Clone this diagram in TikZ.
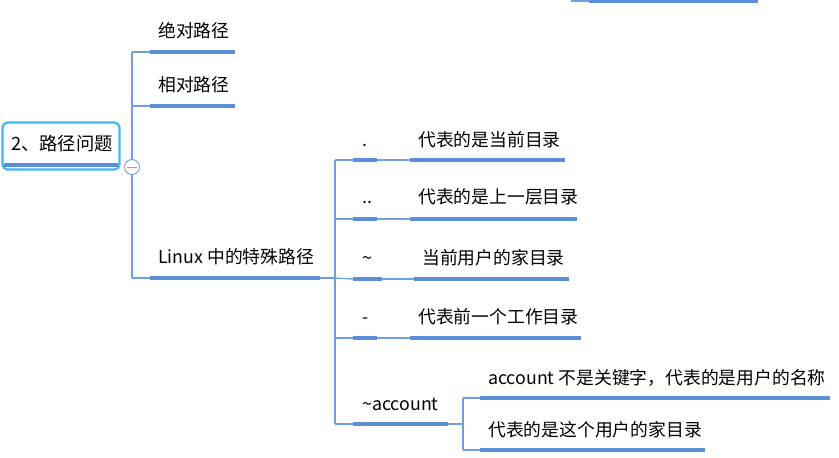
\documentclass[tikz,border=0pt]{standalone}
\usepackage{fontspec}
\setmainfont{Noto Sans CJK SC}
\definecolor{barc}{HTML}{5B8ED6}
\definecolor{thinc}{HTML}{6F9FDC}
\definecolor{rootc}{HTML}{3DB9EF}
\definecolor{togc}{HTML}{8AA4C8}
\begin{document}
\begin{tikzpicture}[x=1pt,y=-1pt,
  lbl/.style={anchor=base west, inner sep=0pt, font=\fontsize{17.8}{18}\selectfont},
  barline/.style={draw=barc, line width=3.5pt},
  conn/.style={draw=thinc, line width=1.3pt}]
\useasboundingbox (0,0) rectangle (839,458);

% top-right fragment
\coordinate (fa) at (572,-5);
\coordinate (fb) at (572,1);
\coordinate (fc) at (589,1);
\coordinate (fd) at (758,1);
\draw[conn] (fa) -- (fb) -- (fc);
\draw[barline] (fc) -- (fd);

% main vertical connector
\coordinate (mv1) at (132,52);
\coordinate (mv2) at (132,278);
\draw[conn] (mv1) -- (mv2);

% root
\node[draw=rootc, line width=2.2pt, rounded corners=5pt, minimum width=117pt, minimum height=47pt, inner sep=0pt, fill=white] (root) at (61,146) {};
\node[lbl, font=\fontsize{18.3}{19}\selectfont] (roottxt) at (11,150) {2、路径问题};
\coordinate (ru1) at (4,165);
\coordinate (ru2) at (118,165);
\draw[barline] (ru1) -- (ru2);
\node[circle, draw=togc, fill=white, line width=1pt, minimum size=15pt, inner sep=0pt] (tog) at (132,167) {};
\draw[togc, line width=1pt] ([xshift=-5pt]tog.center) -- ([xshift=5pt]tog.center);

% first-level children
\node[lbl] (abs) at (158,37.5) {绝对路径};
\coordinate (a1) at (150,52); \coordinate (a2) at (235,52);
\draw[conn] (mv1) -- (a1);
\draw[barline] (a1) -- (a2);

\node[lbl] (rel) at (158,91) {相对路径};
\coordinate (r0) at (132,106); \coordinate (r1) at (150,106); \coordinate (r2) at (235,106);
\draw[conn] (r0) -- (r1);
\draw[barline] (r1) -- (r2);

\node[lbl] (lin) at (158,263.5) {Linux 中的特殊路径};
\coordinate (l1) at (150,278); \coordinate (l2) at (320,278);
\draw[conn] (mv2) -- (l1);
\draw[barline] (l1) -- (l2);

% second vertical
\coordinate (sv1) at (335,160);
\coordinate (sv2) at (335,424);
\coordinate (svm) at (335,278);
\draw[conn] (l2) -- (svm);
\draw[conn] (sv1) -- (sv2);

% row 1 "."
\node[lbl] (k1) at (362,146) {.};
\node[lbl] (v1) at (418,146.5) {代表的是当前目录};
\coordinate (k1a) at (353,160); \coordinate (k1b) at (377,160);
\coordinate (v1a) at (410,160); \coordinate (v1b) at (565,160);
\draw[conn] (sv1) -- (k1a);
\draw[conn] (k1b) -- (v1a);
\draw[barline] (k1a) -- (k1b);
\draw[barline] (v1a) -- (v1b);

% row 2 ".."
\node[lbl] (k2) at (362,203.5) {..};
\node[lbl] (v2) at (418,203.5) {代表的是上一层目录};
\coordinate (k2s) at (335,219);
\coordinate (k2a) at (353,219); \coordinate (k2b) at (377,219);
\coordinate (v2a) at (410,219); \coordinate (v2b) at (577,219);
\draw[conn] (k2s) -- (k2a);
\draw[conn] (k2b) -- (v2a);
\draw[barline] (k2a) -- (k2b);
\draw[barline] (v2a) -- (v2b);

% row 3 "~"
\node[lbl] (k3) at (362,264.5) {\char`\~};
\node[lbl] (v3) at (422,264.5) {当前用户的家目录};
\coordinate (k3a) at (353,279); \coordinate (k3b) at (382,279);
\coordinate (v3a) at (414,279); \coordinate (v3b) at (569,279);
\draw[conn] (svm) -- (k3a);
\draw[conn] (k3b) -- (v3a);
\draw[barline] (k3a) -- (k3b);
\draw[barline] (v3a) -- (v3b);

% row 4 "-"
\node[lbl] (k4) at (362,323) {-};
\node[lbl] (v4) at (418,323) {代表前一个工作目录};
\coordinate (k4s) at (335,338);
\coordinate (k4a) at (353,338); \coordinate (k4b) at (377,338);
\coordinate (v4a) at (410,338); \coordinate (v4b) at (581,338);
\draw[conn] (k4s) -- (k4a);
\draw[conn] (k4b) -- (v4a);
\draw[barline] (k4a) -- (k4b);
\draw[barline] (v4a) -- (v4b);

% row 5 "~account"
\node[lbl] (k5) at (362,410) {\char`\~account};
\coordinate (k5a) at (353,424); \coordinate (k5b) at (448,424);
\coordinate (k5c) at (463,424);
\draw[conn] (sv2) -- (k5a);
\draw[conn] (k5b) -- (k5c);
\draw[barline] (k5a) -- (k5b);
\coordinate (tv1) at (463,398); \coordinate (tv2) at (463,450);
\draw[conn] (tv1) -- (tv2);

\node[lbl] (v5) at (488,384) {account 不是关键字，代表的是用户的名称};
\coordinate (v5a) at (480,398); \coordinate (v5b) at (830,398);
\draw[conn] (tv1) -- (v5a);
\draw[barline] (v5a) -- (v5b);

\node[lbl] (v6) at (488,436) {代表的是这个用户的家目录};
\coordinate (v6a) at (480,450); \coordinate (v6b) at (705,450);
\draw[conn] (tv2) -- (v6a);
\draw[barline] (v6a) -- (v6b);
\end{tikzpicture}
\end{document}
